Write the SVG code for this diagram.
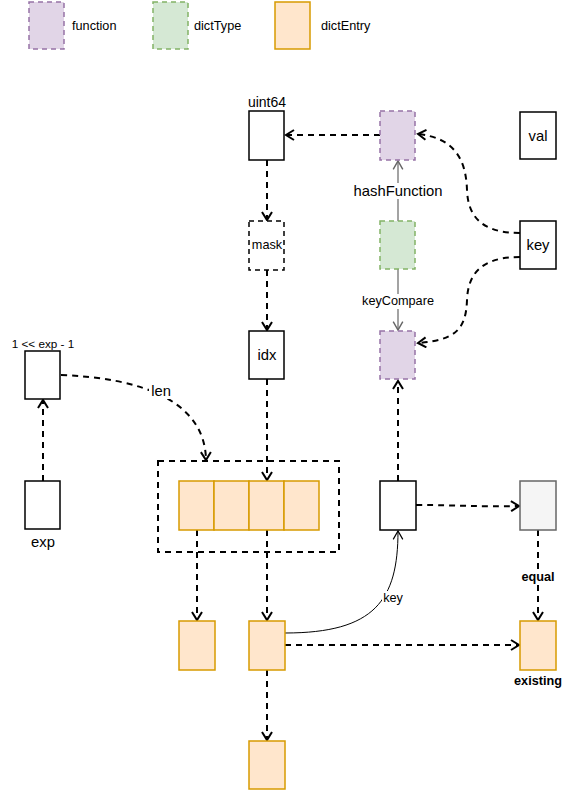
<svg xmlns="http://www.w3.org/2000/svg" width="569" height="790" viewBox="0 0 569 790">
<defs>
<style>
text{font-family:"Liberation Sans",Arial,sans-serif;fill:#000;}
.c{text-anchor:middle;dominant-baseline:central;}
.s{text-anchor:start;dominant-baseline:central;}
.plain{fill:#fff;stroke:#000;stroke-width:1.5;}
.fn{fill:#e1d5e7;stroke:#9673a6;stroke-width:1.5;stroke-dasharray:5 4;}
.dt{fill:#d5e8d4;stroke:#82b366;stroke-width:1.5;stroke-dasharray:5 4;}
.de{fill:#ffe6cc;stroke:#d79b00;stroke-width:1.5;}
.gr{fill:#f5f5f5;stroke:#666;stroke-width:1.5;}
.dash{fill:none;stroke:#000;stroke-width:2;stroke-dasharray:6 5;}
.dnode{fill:#fff;stroke:#000;stroke-width:1.5;stroke-dasharray:5 4;}
.e{fill:none;stroke:#000;stroke-width:2;stroke-dasharray:6 5;marker-end:url(#arr);}
.g{fill:none;stroke:#666;stroke-width:1.2;marker-end:url(#arrg);}
.k{fill:none;stroke:#000;stroke-width:1;marker-end:url(#arrk);}
.bg{fill:#fff;}
</style>
<marker id="arr" markerUnits="userSpaceOnUse" markerWidth="12" markerHeight="12" refX="8" refY="5" orient="auto" viewBox="-1 -1 11 12">
<path d="M0,0 L8,5 L0,10" fill="none" stroke="#000" stroke-width="2" stroke-dasharray="none"/>
</marker>
<marker id="arrg" markerUnits="userSpaceOnUse" markerWidth="12" markerHeight="12" refX="7" refY="4" orient="auto" viewBox="-1 -1 10 10">
<path d="M0,0 L7,4 L0,8" fill="none" stroke="#666" stroke-width="1.2"/>
</marker>
<marker id="arrk" markerUnits="userSpaceOnUse" markerWidth="12" markerHeight="12" refX="7" refY="4" orient="auto" viewBox="-1 -1 10 10">
<path d="M0,0 L7,4 L0,8" fill="none" stroke="#000" stroke-width="1"/>
</marker>
</defs>

<g id="legend">
<g id="legend-function"><rect class="fn" x="29" y="2" width="35" height="47"/><text class="s" x="72" y="26" font-size="12.7">function</text></g>
<g id="legend-dictType"><rect class="dt" x="153" y="2" width="35" height="47"/><text class="s" x="194" y="26" font-size="12.7">dictType</text></g>
<g id="legend-dictEntry"><rect class="de" x="275" y="2" width="35" height="47"/><text class="s" x="321" y="26" font-size="12.7">dictEntry</text></g>
</g>

<g id="connectors">
<path class="e" d="M380,135 L286,135"/>
<path class="e" d="M267,160 L267,220"/>
<path class="e" d="M267,270 L267,330"/>
<path class="e" d="M267,379 L267,480"/>
<path class="e" d="M520,233 C480,233 468,215 467,190 C466,160 455,138 418,134"/>
<path class="e" d="M520,257 C480,257 468,275 467,300 C466,330 455,340 418,343"/>
<path class="g" d="M398,221 L398,161"/>
<path class="g" d="M398,269 L398,330"/>
<path class="e" d="M398,481 L398,381"/>
<path class="e" d="M416,505 C460,505 480,507 519,506"/>
<path class="e" d="M538,530 L538,620"/>
<path class="e" d="M43,481 L43,400"/>
<path class="e" d="M61,375 C140,378 205,400 206,460"/>
<path class="e" d="M197,530 L197,620"/>
<path class="e" d="M267,530 L267,620"/>
<path class="e" d="M267,670 L267,740"/>
<path class="e" d="M285,645 L519,645"/>
<path class="k" d="M285,633 C375,633 398,600 398,531"/>
<rect class="bg" x="350" y="183" width="96" height="16"/>
<text class="c" x="398" y="191" font-size="14.8">hashFunction</text>
<rect class="bg" x="360" y="294" width="76" height="15"/>
<text class="c" x="398" y="301" font-size="12.7">keyCompare</text>
<rect class="bg" x="149" y="383" width="24" height="16"/>
<text class="c" x="161" y="391" font-size="14.8">len</text>
<rect class="bg" x="382" y="591" width="22" height="15"/>
<text class="c" x="393" y="598" font-size="12.7">key</text>
<rect class="bg" x="520" y="570" width="36" height="15"/>
<text class="c" x="538" y="577" font-size="12.7" font-weight="bold">equal</text>
</g>

<g id="uint64"><rect class="plain" x="249" y="111" width="35" height="49"/><text class="c" x="267" y="102" font-size="14">uint64</text></g>
<g id="hashFn"><rect class="fn" x="380" y="111" width="35" height="49"/></g>
<g id="val"><rect class="plain" x="520" y="112" width="36" height="47"/><text class="c" x="538" y="136" font-size="14.8">val</text></g>
<g id="mask"><rect class="dnode" x="249" y="221" width="35" height="49"/><text class="c" x="267" y="245" font-size="12.7">mask</text></g>
<g id="dictType"><rect class="dt" x="380" y="221" width="35" height="48"/></g>
<g id="key"><rect class="plain" x="520" y="221" width="36" height="48"/><text class="c" x="538" y="245" font-size="14.8">key</text></g>
<g id="idx"><rect class="plain" x="249" y="331" width="35" height="48"/><text class="c" x="267" y="355" font-size="14.8">idx</text></g>
<g id="keyCompareFn"><rect class="fn" x="380" y="331" width="35" height="48"/></g>
<g id="lenNode"><rect class="plain" x="25" y="351" width="35" height="48"/><text class="c" x="43" y="343" font-size="11.7">1 &lt;&lt; exp - 1</text></g>
<g id="exp"><rect class="plain" x="25" y="481" width="35" height="48"/><text class="c" x="43" y="542" font-size="14.8">exp</text></g>
<g id="table">
<rect class="dash" x="158" y="461" width="181" height="91"/>
<rect class="de" x="179" y="481" width="35" height="49"/>
<rect class="de" x="214" y="481" width="35" height="49"/>
<rect class="de" x="249" y="481" width="35" height="49"/>
<rect class="de" x="284" y="481" width="35" height="49"/>
</g>
<g id="lookupKey"><rect class="plain" x="380" y="481" width="36" height="49"/></g>
<g id="compareResult"><rect class="gr" x="520" y="481" width="36" height="49"/></g>
<g id="entryA"><rect class="de" x="179" y="621" width="36" height="49"/></g>
<g id="entryB"><rect class="de" x="249" y="621" width="36" height="49"/></g>
<g id="entryC"><rect class="de" x="249" y="741" width="36" height="48"/></g>
<g id="existing"><rect class="de" x="520" y="621" width="36" height="49"/><text class="c" x="538" y="681" font-size="12.7" font-weight="bold">existing</text></g>
</svg>
